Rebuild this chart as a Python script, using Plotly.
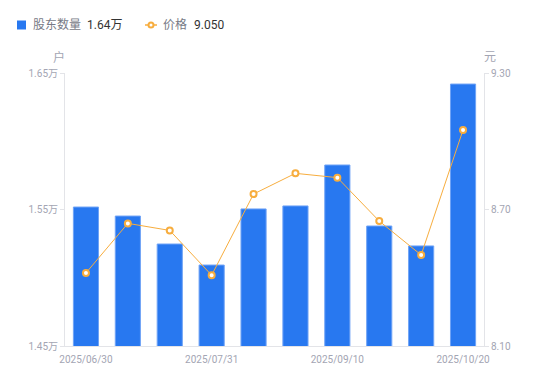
import plotly.graph_objects as go

dates = ["2025/06/30", "2025/07/10", "2025/07/20", "2025/07/31", "2025/08/10",
         "2025/08/20", "2025/09/10", "2025/09/20", "2025/09/30", "2025/10/20"]
holders = [15518, 15452, 15247, 15093, 15504, 15526, 15826, 15379, 15233, 16419]
prices = [8.421, 8.639, 8.608, 8.411, 8.768, 8.859, 8.840, 8.649, 8.500, 9.050]
x_tick_labels = ["2025/06/30", "2025/07/31", "2025/09/10", "2025/10/20"]
left_ticks = [14500, 15500, 16500]
left_tick_text = ["1.45万", "1.55万", "1.65万"]
right_ticks = [8.10, 8.70, 9.30]
right_tick_text = ["8.10", "8.70", "9.30"]

W, H = 550, 381
L, R, T, B = 65, 66, 73, 35
PW, PH = W - L - R, H - T - B


def px(x):
    return (x - L) / PW


def py(y):
    return (H - B - y) / PH


FONT = "Roboto, 'Noto Sans CJK SC', sans-serif"
BLUE = "#2878f0"
ORANGE = "#f7ad3e"
GREY = "#a3a5b3"
AXIS = "#e3e4e8"

fig = go.Figure()
fig.add_trace(go.Bar(x=dates, y=holders, name="股东数量", marker=dict(color=BLUE, line=dict(color="#6fa3f6", width=1)),
                     width=0.6, yaxis="y", showlegend=False))
fig.add_trace(go.Scatter(x=dates, y=prices, name="价格", mode="lines+markers", yaxis="y2",
                         line=dict(color=ORANGE, width=1),
                         marker=dict(symbol="circle", size=6, color="white", line=dict(color=ORANGE, width=2)),
                         showlegend=False))

fig.update_layout(
    width=W, height=H, margin=dict(l=L, r=R, t=T, b=B),
    paper_bgcolor="white", plot_bgcolor="white",
    font=dict(family=FONT, size=10, color=GREY),
    bargap=0.4,
    xaxis=dict(type="category", tickmode="array", tickvals=x_tick_labels, ticktext=x_tick_labels,
               showline=True, linecolor=AXIS, linewidth=1, ticks="", showgrid=False, zeroline=False,
               ticklabelstandoff=4,
               tickfont=dict(size=10, color=GREY), range=[-0.5, len(dates) - 0.5]),
    yaxis=dict(range=[14500, 16500], tickvals=left_ticks, ticktext=left_tick_text, showgrid=False,
               zeroline=False, showline=True, linecolor=AXIS, linewidth=1, ticks="outside",
               ticklen=4, tickcolor=AXIS, tickfont=dict(size=10, color=GREY)),
    yaxis2=dict(range=[8.10, 9.30], tickvals=right_ticks, ticktext=right_tick_text, overlaying="y",
                side="right", showgrid=False, zeroline=False, showline=True, linecolor=AXIS, linewidth=1,
                ticks="outside", ticklen=4, tickcolor=AXIS, tickfont=dict(size=10, color=GREY)),
)

annotations = [
    dict(x=px(59), y=py(57), text="户", font=dict(size=12, color=GREY)),
    dict(x=px(490), y=py(57), text="元", font=dict(size=12, color=GREY)),
    dict(x=px(31), y=py(25), text="股东数量", xanchor="left", font=dict(size=12, color="#777a86")),
    dict(x=px(85), y=py(25), text=f"{holders[-1] / 10000:.2f}万", xanchor="left", font=dict(size=12, color="#333333")),
    dict(x=px(161), y=py(25), text="价格", xanchor="left", font=dict(size=12, color="#777a86")),
    dict(x=px(192), y=py(25), text=f"{prices[-1]:.3f}", xanchor="left", font=dict(size=12, color="#333333")),
]
for a in annotations:
    a.setdefault("xanchor", "center")
    a.update(xref="paper", yref="paper", yanchor="middle", showarrow=False)
fig.update_layout(annotations=annotations)

shapes = [
    dict(type="rect", x0=px(17), x1=px(26), y0=py(29.5), y1=py(20.5), fillcolor=BLUE, line=dict(width=0)),
    dict(type="line", x0=px(145), x1=px(157), y0=py(25), y1=py(25), line=dict(color=ORANGE, width=1.5)),
    dict(type="circle", x0=px(148.5), x1=px(153.5), y0=py(27.5), y1=py(22.5), fillcolor="white",
         line=dict(color=ORANGE, width=2)),
]
for s in shapes:
    s.update(xref="paper", yref="paper")
fig.update_layout(shapes=shapes)

fig.write_html("out.html", config={"displayModeBar": False},
               post_script="document.body.style.margin='0';")
